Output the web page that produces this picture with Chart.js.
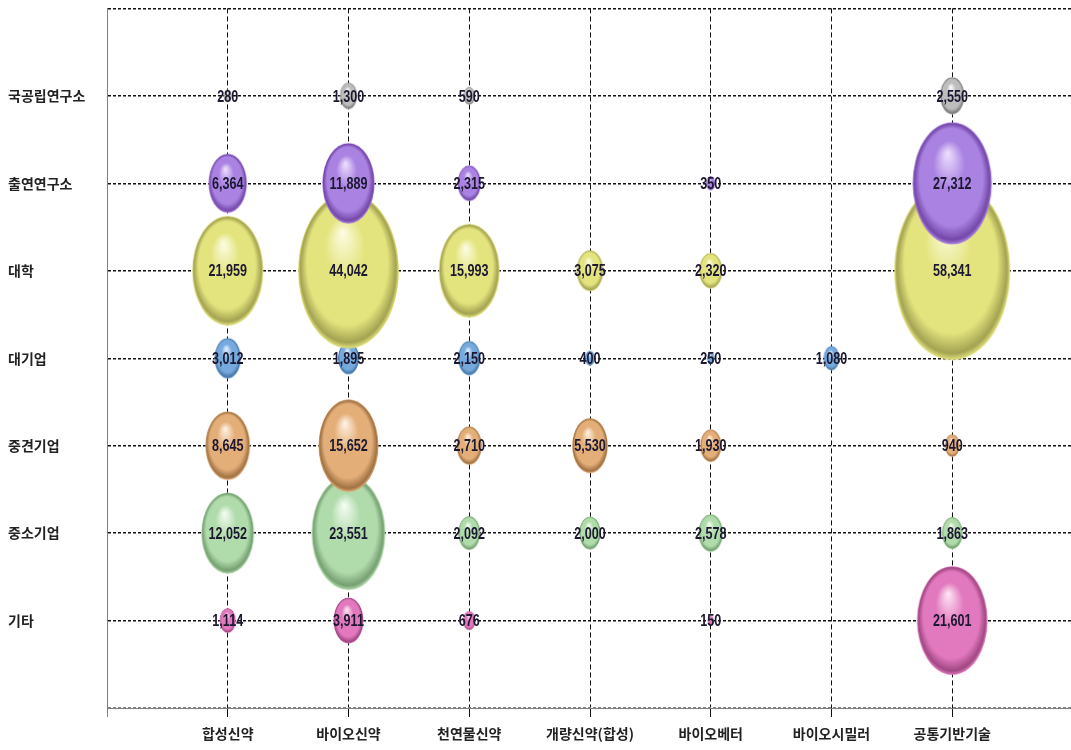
<!DOCTYPE html>
<html>
<head>
<meta charset="utf-8">
<script src="https://cdn.jsdelivr.net/npm/chart.js@4/dist/chart.umd.min.js"></script>
<style>
  html, body { margin: 0; padding: 0; background: #fff; overflow: hidden; }
  /* a bit wider than the window: the plot runs off the right edge like the original */
  #wrap { position: relative; width: 1081px; height: 750px; }
</style>
</head>
<body>
<div id="wrap"><canvas id="myChart"></canvas></div>
<script>
'use strict';

// categories on the x axis
let fields = ['합성신약', '바이오신약', '천연물신약', '개량신약(합성)', '바이오베터', '바이오시밀러', '공통기반기술'];
// rows, top to bottom
let groups = ['국공립연구소', '출연연구소', '대학', '대기업', '중견기업', '중소기업', '기타'];

// values per row (null = no bubble)
let gukgongrip = [280, 1300, 590, null, null, null, 2550];
let chulyeon = [6364, 11889, 2315, null, 350, null, 27312];
let daehak = [21959, 44042, 15993, 3075, 2320, null, 58341];
let daegieop = [3012, 1895, 2150, 400, 250, 1080, null];
let junggyeon = [8645, 15652, 2710, 5530, 1930, null, 940];
let jungso = [12052, 23551, 2092, 2000, 2578, null, 1863];
let gita = [1114, 3911, 676, null, 150, null, 21601];

let rows = [gukgongrip, chulyeon, daehak, daegieop, junggyeon, jungso, gita];

// ball colours: highlight, base, shadow
let colors = [
    ['#ffffff', '#bdbdbd', '#7a7a7a'],
    ['#efe2ff', '#a982e2', '#7448a8'],
    ['#fdfde4', '#e4e47e', '#a3a352'],
    ['#e8f3ff', '#76aadf', '#4574a4'],
    ['#fff4e6', '#e4ae78', '#a07244'],
    ['#f6fff4', '#b0dbab', '#76a072'],
    ['#ffe8f6', '#e278be', '#a04882']
];

// bubbles are tall ellipses in the picture, so each one is a small sprite
let sprites = {};
function ballSprite(c, idx) {
    if (!c.raw) return 'circle';
    let key = idx + '_' + c.raw.x;
    if (sprites[key]) return sprites[key];
    let col = colors[idx];
    let rx = c.raw.r;
    let ry = rx * 1.54;
    let cv = document.createElement('canvas');
    cv.width = Math.ceil(rx * 2) + 2;
    cv.height = Math.ceil(ry * 2) + 2;
    let g2 = cv.getContext('2d');
    g2.translate(cv.width / 2, cv.height / 2);
    g2.scale(1, ry / rx);
    let g = g2.createRadialGradient(-rx * 0.12, -rx * 0.5, 0, 0, 0, rx);
    g.addColorStop(0, col[0]);
    g.addColorStop(0.4, col[1]);
    g.addColorStop(0.8, col[1]);
    g.addColorStop(0.95, col[2]);
    g.addColorStop(1, col[1]);
    g2.fillStyle = g;
    g2.beginPath();
    g2.arc(0, 0, rx, 0, Math.PI * 2);
    g2.fill();
    sprites[key] = cv;
    return cv;
}

let datasets = [];
for (let i = 0; i < rows.length; i++) {
    let pts = [];
    for (let j = 0; j < rows[i].length; j++) {
        if (rows[i][j] === null) continue;
        // bubble area follows the value
        pts.push({ x: j + 1, y: groups.length - i, r: 0.24 * Math.sqrt(rows[i][j]), v: rows[i][j] });
    }
    datasets.push({
        label: groups[i],
        data: pts,
        borderWidth: 0,
        clip: false,
        backgroundColor: colors[i][1],
        pointStyle: function (c) { return ballSprite(c, i); }
    });
}

// numbers on the bubbles (narrow bold digits)
let valueLabels = {
    id: 'valueLabels',
    afterDatasetsDraw(chart) {
        let ctx = chart.ctx;
        ctx.font = 'bold 17px "Liberation Sans"';
        ctx.fillStyle = '#1c1830';
        ctx.textAlign = 'center';
        ctx.textBaseline = 'middle';
        chart.data.datasets.forEach(function (ds, i) {
            chart.getDatasetMeta(i).data.forEach(function (el, k) {
                ctx.save();
                ctx.translate(el.x, el.y + 1);
                ctx.scale(0.74, 1);
                ctx.fillText(ds.data[k].v.toLocaleString('en-US'), 0, 0);
                ctx.restore();
            });
        });
    }
};

let ctx = document.getElementById('myChart').getContext('2d');
let myChart = new Chart(ctx, {
    type: 'bubble',
    data: { datasets: datasets },
    plugins: [valueLabels],
    options: {
        responsive: true,
        maintainAspectRatio: false,
        animation: false,
        events: [],
        layout: { autoPadding: false, padding: { top: 7, left: 8, right: 0, bottom: 0 } },
        plugins: { legend: { display: false }, tooltip: { enabled: false } },
        scales: {
            x: {
                type: 'linear',
                min: 0,
                max: 8,
                afterFit: function (s) { s.height = 42; },
                ticks: {
                    stepSize: 1,
                    autoSkip: false,
                    maxRotation: 0,
                    padding: 8,
                    color: '#222',
                    font: { family: '"Noto Sans CJK KR"', size: 14, weight: 'bold' },
                    callback: function (v) { return fields[v - 1] || ''; }
                },
                grid: {
                    tickLength: 9,
                    lineWidth: 1,
                    color: function (c) {
                        let v = c.tick ? c.tick.value : -1;
                        if (v === 0) return '#808080';
                        if (v === 8) return 'rgba(0,0,0,0)';
                        return '#111';
                    }
                },
                border: { color: '#808080', width: 1, dash: [5, 3] }
            },
            y: {
                type: 'linear',
                min: 0,
                max: 8,
                afterFit: function (s) { s.width = 99; },
                ticks: {
                    stepSize: 1,
                    autoSkip: false,
                    crossAlign: 'far',
                    padding: 0,
                    color: '#222',
                    font: { family: '"Noto Sans CJK KR"', size: 14, weight: 'bold' },
                    callback: function (v) { return groups[groups.length - v] || ''; }
                },
                grid: {
                    drawTicks: false,
                    lineWidth: 1.4,
                    color: function (c) { return c.tick && c.tick.value === 0 ? '#808080' : '#111'; }
                },
                border: { color: '#808080', width: 1, dash: [3, 2] }
            }
        }
    }
});
</script>
</body>
</html>
